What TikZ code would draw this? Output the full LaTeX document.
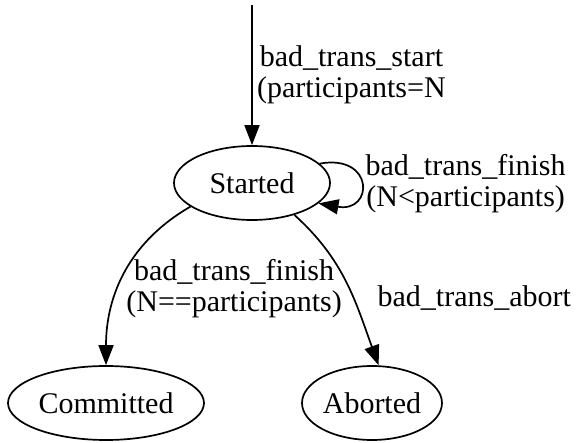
\documentclass[tikz,border=0pt]{standalone}
\usepackage{fontspec}
\setmainfont{Liberation Serif}
\usetikzlibrary{arrows.meta,automata,positioning}
\usetikzlibrary{shapes.geometric}

\begin{document}
\begin{tikzpicture}[x=1pt,y=-1pt,>={Triangle[length=20pt,width=15pt]},line width=1.7pt,
	every state/.style={ellipse,draw,inner sep=0pt,minimum height=74pt},
	font=\fontsize{30pt}{31pt}\selectfont]
	\useasboundingbox (0,0) rectangle (576,443);
	\coordinate (init) at (252,5);
	\node[state,minimum width=156pt] (st) at (252,183) {Started};
	\node[state,minimum width=196pt] (cm) at (106,403) {Committed};
	\node[state,minimum width=140pt] (ab) at (372,403) {Aborted};

	\path[->]
	(init) edge node [right=1pt,align=center] {bad\_trans\_start\\(participants=N} (st)
	(st.16) edge [out=10,in=-10,looseness=3.6] node [right=1pt,align=center] {bad\_trans\_finish\\(N<participants)} (st.-17)

	(st.201) edge [out=210,in=90] node [pos=0.6,right=4pt,align=center] {bad\_trans\_finish\\(N==participants)} (cm)

	(st.-37) edge [out=-42,in=110] node [pos=0.6,right=20pt] {bad\_trans\_abort} (ab.80)
	;
\end{tikzpicture}
\end{document}
